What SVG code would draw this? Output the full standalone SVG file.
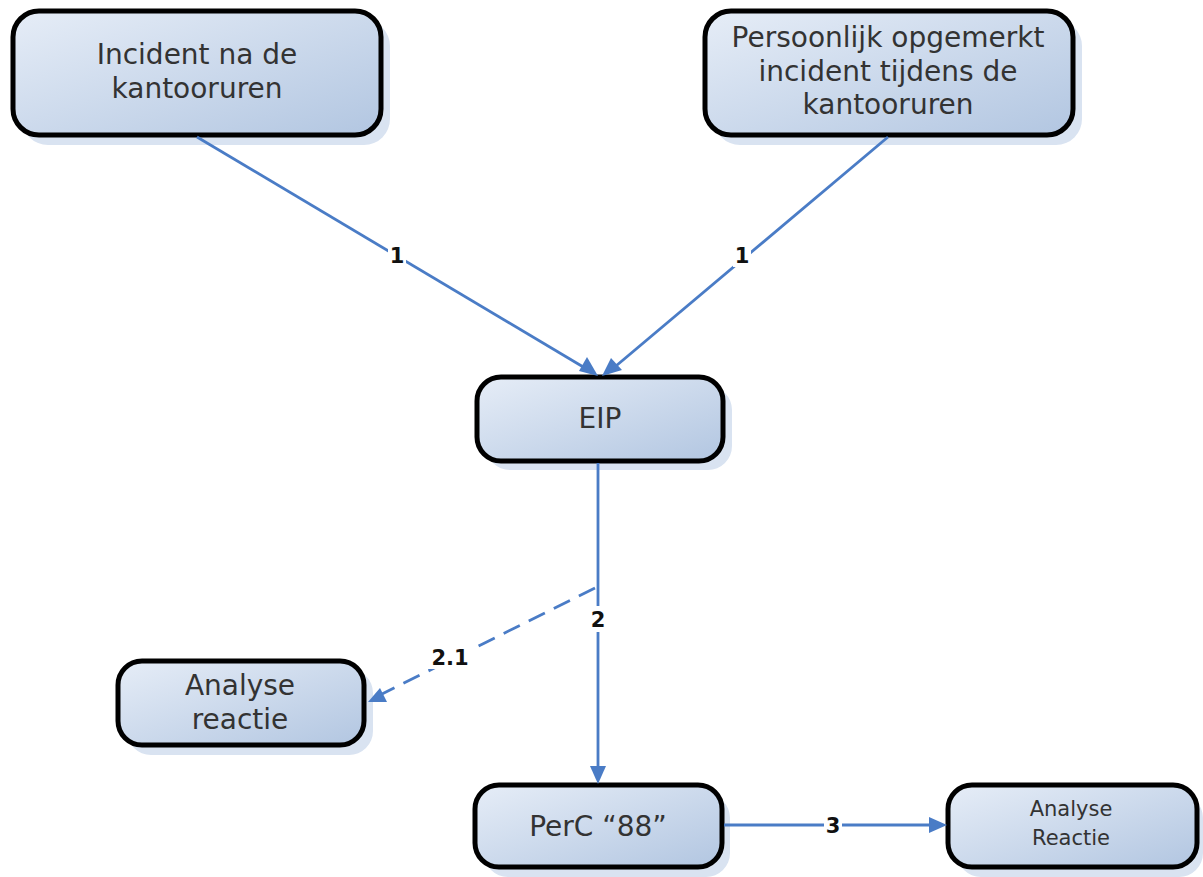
<svg xmlns="http://www.w3.org/2000/svg" width="1203" height="877" viewBox="0 0 1203 877">
<defs>
<linearGradient id="g" x1="0" y1="0" x2="1" y2="1">
<stop offset="0" stop-color="#e6edf7"/>
<stop offset="1" stop-color="#b2c6e1"/>
</linearGradient>
</defs>
<style>
.sh{fill:#d9e3f1}
.bx{fill:url(#g);stroke:#000;stroke-width:5}
.t{font-family:"DejaVu Sans",Verdana,sans-serif;font-size:28px;fill:#333;text-anchor:middle}
.ts{font-family:"DejaVu Sans",Verdana,sans-serif;font-size:21px;fill:#333;text-anchor:middle}
.c{stroke:#4a7cc6;stroke-width:2.8;fill:none}
.ah{fill:#4a7cc6}
.lb{font-family:"DejaVu Sans",Verdana,sans-serif;font-size:21px;font-weight:bold;fill:#111;text-anchor:middle}
.lbg{fill:#fff}
</style>
<rect width="1203" height="877" fill="#fff"/>
<g id="n1">
<rect class="sh" x="22" y="20" width="368" height="125" rx="26"/>
<rect class="bx" x="13" y="11" width="368" height="124" rx="26"/>
<text class="t" x="197" y="64">Incident na de</text>
<text class="t" x="197" y="98">kantooruren</text>
</g>
<g id="n2">
<rect class="sh" x="714" y="20" width="368" height="125" rx="26"/>
<rect class="bx" x="705" y="11" width="368" height="124" rx="26"/>
<text class="t" x="888" y="47">Persoonlijk opgemerkt</text>
<text class="t" x="888" y="81">incident tijdens de</text>
<text class="t" x="888" y="114">kantooruren</text>
</g>
<g id="eip">
<rect class="sh" x="486" y="386" width="246" height="84" rx="24"/>
<rect class="bx" x="477" y="377" width="246" height="84" rx="24"/>
<text class="t" x="600" y="428">EIP</text>
</g>
<g id="analyse1">
<rect class="sh" x="127" y="669" width="246" height="86" rx="24"/>
<rect class="bx" x="118" y="661" width="246" height="84" rx="24"/>
<text class="t" x="240" y="695">Analyse</text>
<text class="t" x="240" y="729">reactie</text>
</g>
<g id="perc">
<rect class="sh" x="484" y="794" width="246" height="83" rx="24"/>
<rect class="bx" x="475" y="785" width="247" height="82" rx="24"/>
<text class="t" x="598" y="836">PerC “88”</text>
</g>
<g id="analyse2">
<rect class="sh" x="957" y="794" width="246" height="83" rx="24"/>
<rect class="bx" x="948" y="785" width="249" height="82" rx="24"/>
<text class="ts" x="1071" y="816">Analyse</text>
<text class="ts" x="1071" y="845">Reactie</text>
</g>
<g id="connectors">
<line class="c" x1="197" y1="137" x2="590" y2="371"/>
<line class="c" x1="888" y1="137" x2="610" y2="371"/>
<line class="c" x1="598" y1="463" x2="598" y2="770"/>
<line class="c" x1="595" y1="588" x2="380" y2="695" stroke-dasharray="18,10"/>
<line class="c" x1="724" y1="825" x2="932" y2="825"/>
<path class="ah" d="M598,376 L579,371 L587,357 z"/>
<path class="ah" d="M602,376 L611,358 L622,370 z"/>
<path class="ah" d="M598,784 L590,766 L606,766 z"/>
<path class="ah" d="M368,702 L380,688 L387,702 z"/>
<path class="ah" d="M947,825 L929,817 L929,833 z"/>
<rect class="lbg" x="388" y="243" width="18" height="24"/>
<text class="lb" x="397" y="263">1</text>
<rect class="lbg" x="733" y="243" width="18" height="24"/>
<text class="lb" x="742" y="263">1</text>
<rect class="lbg" x="588" y="606" width="20" height="26"/>
<text class="lb" x="598" y="627">2</text>
<rect class="lbg" x="428" y="645" width="44" height="24"/>
<text class="lb" x="450" y="665">2.1</text>
<rect class="lbg" x="824" y="813" width="18" height="24"/>
<text class="lb" x="833" y="833">3</text>
</g>
</svg>
